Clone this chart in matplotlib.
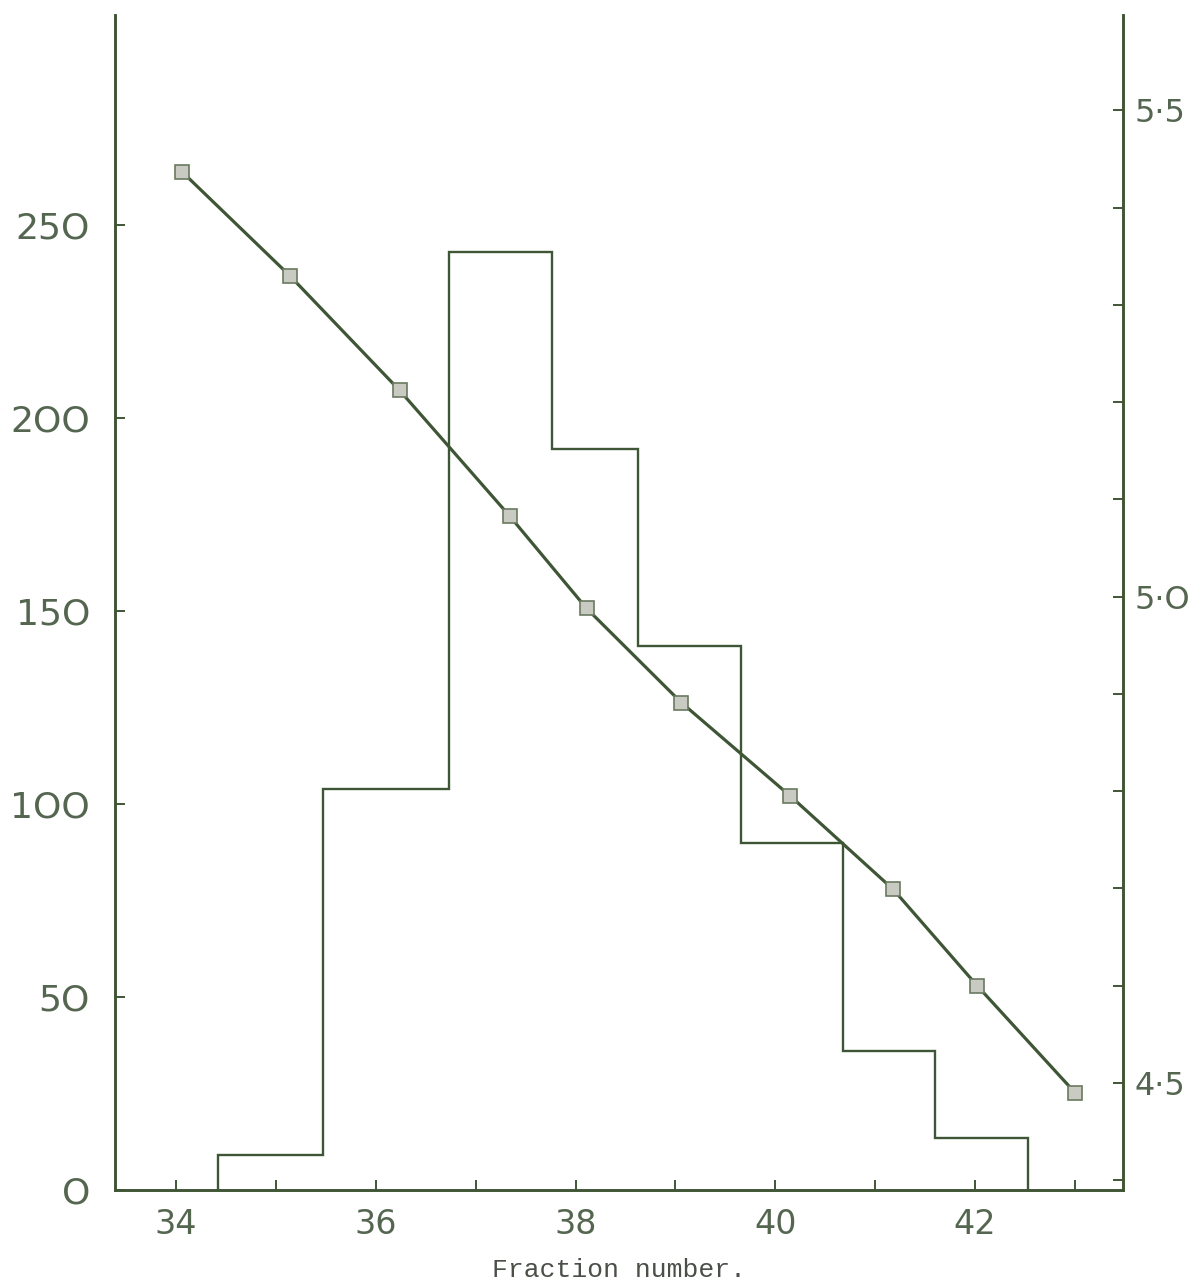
import matplotlib
matplotlib.use("Agg")
import matplotlib.pyplot as plt
import numpy as np

# ---- data ----
bin_edges = [34.42, 35.47, 36.73, 37.76, 38.63, 39.66, 40.68, 41.60, 42.53]
counts = [9, 104, 243, 192, 141, 90, 36, 13.5]

line_x = [34.06, 35.14, 36.24, 37.34, 38.11, 39.06, 40.15, 41.18, 42.02, 43.0]
line_y = [5.437, 5.330, 5.212, 5.083, 4.988, 4.891, 4.795, 4.699, 4.600, 4.490]

x_ticks = [34, 35, 36, 37, 38, 39, 40, 41, 42, 43]
x_ticklabels = ["34", "", "36", "", "38", "", "40", "", "42", ""]
left_ticks = [0, 50, 100, 150, 200, 250]
left_ticklabels = ["O", "5O", "1OO", "15O", "2OO", "25O"]
right_ticks = [4.4, 4.5, 4.6, 4.7, 4.8, 4.9, 5.0, 5.1, 5.2, 5.3, 5.4, 5.5]
right_ticklabels = ["", "4·5", "", "", "", "", "5·O", "", "", "", "", "5·5"]

xlabel = "Fraction number."

ink = "#3f5636"
txt = "#556650"

fig = plt.figure(figsize=(11.9, 12.86), dpi=100)
ax = fig.add_axes([0.0966, 0.0747, 0.9437 - 0.0966, 0.9883 - 0.0747])
ax2 = ax.twinx()

ax.stairs(counts, bin_edges, baseline=0, fill=False, color=ink, linewidth=1.7)
ax2.plot(line_x, line_y, color=ink, linewidth=2.3, marker="s", markersize=10,
         markerfacecolor="#c9cbc2", markeredgecolor="#6a7a60", markeredgewidth=1.2)

ax.set_xlim(33.39, 43.48)
ax.set_ylim(0, 304.4)
ax2.set_ylim(4.39, 5.598)

for a in (ax, ax2):
    a.spines["top"].set_visible(False)
    for s in ("left", "right", "bottom"):
        a.spines[s].set_color(ink)
        a.spines[s].set_linewidth(1.9)

ax.set_xticks(x_ticks)
ax.set_xticklabels(x_ticklabels)
ax.set_yticks(left_ticks)
ax.set_yticklabels(left_ticklabels)
ax2.set_yticks(right_ticks)
ax2.set_yticklabels(right_ticklabels)

ax.tick_params(axis="x", direction="in", length=7, width=1.4, color=ink,
               pad=13, labelsize=24, labelcolor=txt)
ax.tick_params(axis="y", direction="in", length=7, width=1.4, color=ink,
               pad=18, labelsize=26, labelcolor=txt)
ax2.tick_params(axis="y", direction="in", length=7, width=1.4, color=ink,
                pad=8, labelsize=23, labelcolor=txt)

for lab in ax.get_xticklabels() + ax.get_yticklabels() + ax2.get_yticklabels():
    lab.set_fontfamily("DejaVu Sans")

ax.set_xlabel(xlabel, fontfamily="Liberation Mono", fontsize=19, color="#4a4f48",
              labelpad=12)

fig.savefig("out.png", dpi=100, facecolor="white")
